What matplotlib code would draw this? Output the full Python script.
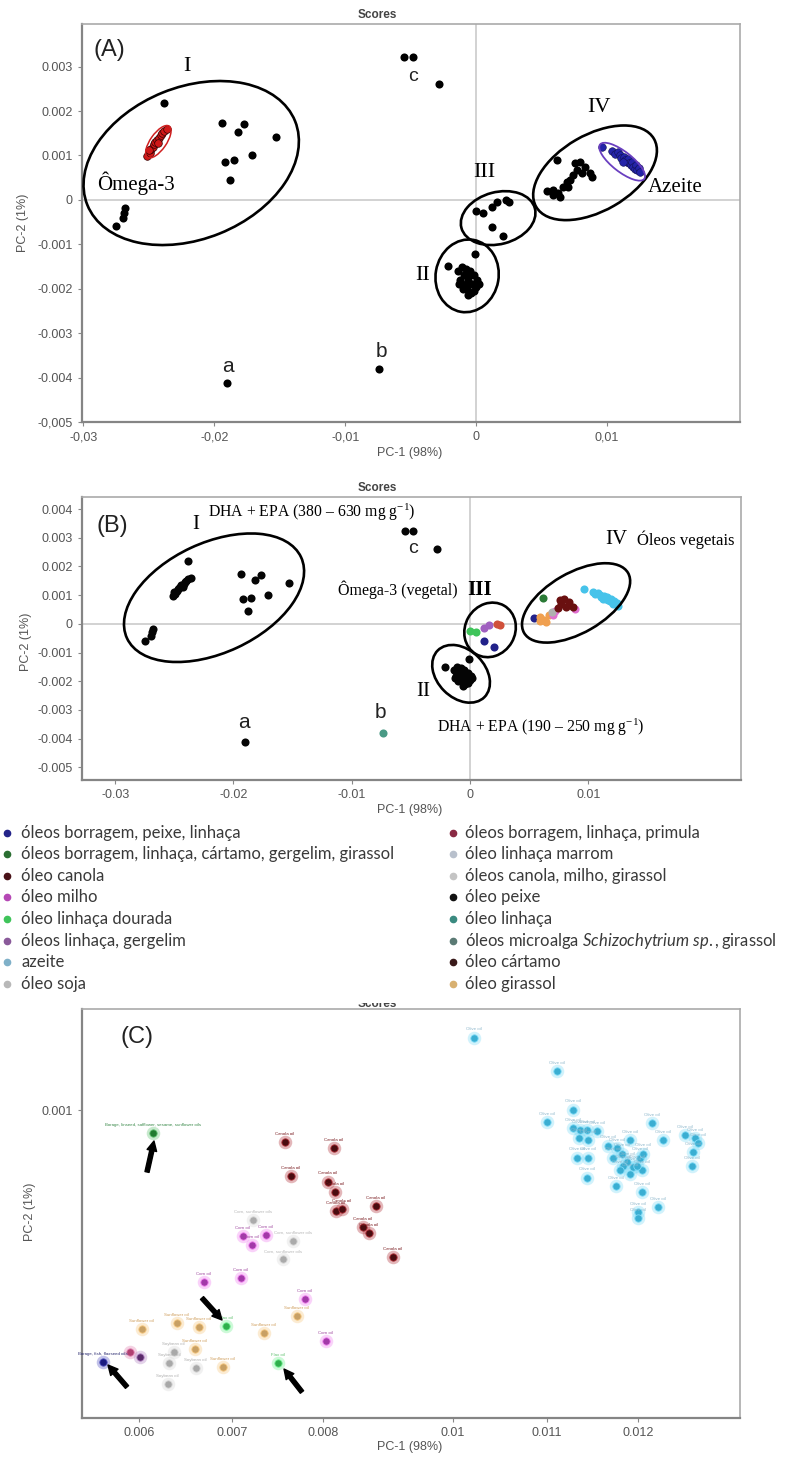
import numpy as np
import matplotlib
matplotlib.use("Agg")
import matplotlib.pyplot as plt
from matplotlib.patches import Ellipse
from matplotlib.transforms import ScaledTranslation, Bbox

# --- Config ---
W, H, DPI = 811, 1457, 100
SERIF = "Liberation Serif"
SANS  = "Liberation Sans"
LEG   = "Lato"
TICK_COLOR = "#555555"

plt.rcParams["mathtext.fontset"] = "custom"
plt.rcParams["mathtext.it"] = "Lato:italic"
plt.rcParams["mathtext.rm"] = "Lato"

# --- Scores PC-1 / PC-2 shared by panels A and B ---
fish_x = [-0.0238, -0.0194, -0.0182, -0.0177, -0.0153, -0.0192, -0.0185, -0.0171, -0.0188,
          -0.0275, -0.0270, -0.0269, -0.0268,
          -0.0055, -0.0048, -0.0028, -0.0190,
          -0.00214, -0.00008, -0.0014, -0.0011, -0.0008, -0.0005, -0.0002, 0.0001, -0.0012,
          -0.0009, -0.0006, -0.0003, 0.0000, -0.0010, -0.0007, -0.0004, -0.0006, -0.0013,
          -0.0002, -0.0008, 0.0002, -0.0005]
fish_y = [0.00218, 0.00173, 0.00153, 0.00171, 0.00142, 0.00085, 0.00090, 0.00101, 0.00045,
          -0.00059, -0.00041, -0.00029, -0.00018,
          0.00322, 0.00322, 0.00260, -0.00413,
          -0.00149, -0.00122, -0.0016, -0.0015, -0.00155, -0.0016, -0.0017, -0.0018, -0.0018,
          -0.0017, -0.0018, -0.0019, -0.00195, -0.0020, -0.0020, -0.0021, -0.00215, -0.0019,
          -0.00205, -0.0019, -0.0019, -0.0017]

omega3_x = [-0.0251, -0.0249, -0.0248, -0.0247, -0.0246, -0.0245, -0.0244, -0.0242, -0.0241,
            -0.0240, -0.0238, -0.0236, -0.0250, -0.0243]
omega3_y = [0.00098, 0.00105, 0.00115, 0.00120, 0.00125, 0.00130, 0.00135, 0.00140, 0.00145,
            0.00150, 0.00155, 0.00160, 0.00112, 0.00128]

micro_x, micro_y = [-0.0074], [-0.0038]

navy_x, navy_y         = [0.00122, 0.00206, 0.0054], [-0.00061, -0.00081, 0.00019]
dgreen_x, dgreen_y     = [0.00616], [0.0009]
bgreen_x, bgreen_y     = [0.0, 0.00053], [-0.00025, -0.00029]
purple_x, purple_y     = [0.00122, 0.0016], [-0.00016, -0.00005]
primula_x, primula_y   = [0.00229, 0.00252], [0.0, -0.00005]
sunfl_x = [0.0059, 0.00628, 0.00641, 0.0059, 0.00666]
sunfl_y = [0.00023, 0.00015, 0.00007, 0.00011, 0.0003]
corn_x, corn_y         = [0.00705, 0.00718, 0.00883], [0.0003, 0.00045, 0.00052]
soy_x, soy_y           = [0.00692], [0.00041]
canola_x = [0.00743, 0.00769, 0.00756, 0.00794, 0.00832, 0.0087, 0.00807]
canola_y = [0.00056, 0.00068, 0.00083, 0.00086, 0.00075, 0.0006, 0.0006]
olive_x = [0.0096, 0.0104, 0.0106, 0.0108, 0.0110, 0.0111, 0.0113, 0.0114, 0.0115, 0.0116,
           0.0117, 0.0118, 0.0119, 0.0120, 0.0121, 0.0122, 0.0123, 0.0124, 0.0125, 0.0112]
olive_y = [0.00120, 0.00110, 0.00103, 0.00108, 0.00100, 0.00094, 0.00097, 0.00090, 0.00086,
           0.00092, 0.00082, 0.00078, 0.00085, 0.00075, 0.00070, 0.00078, 0.00068, 0.00072,
           0.00063, 0.00085]

# --- Panel C (zoom on vegetable oils) ---
c_navy_x, c_navy_y     = [0.005613], [0.000182]
c_dgreen_x, c_dgreen_y = [0.006154], [0.000926]
c_canola_x = [0.007582, 0.008169, 0.007648, 0.008077, 0.008185, 0.008200, 0.008292, 0.008815,
              0.008615, 0.008708, 0.009077]
c_canola_y = [0.000896, 0.000877, 0.000786, 0.000769, 0.000734, 0.000672, 0.000679, 0.000688,
              0.000620, 0.000601, 0.000523]
c_mix_x, c_mix_y       = [0.007231, 0.007670, 0.007560], [0.000643, 0.000575, 0.000516]
c_corn_x = [0.007121, 0.007374, 0.007220, 0.006699, 0.007099, 0.007802, 0.008046]
c_corn_y = [0.000591, 0.000594, 0.000562, 0.000442, 0.000455, 0.000386, 0.000250]
c_bgreen_x, c_bgreen_y = [0.006935, 0.007505], [0.000299, 0.000179]
c_sunfl_x = [0.006032, 0.006409, 0.006645, 0.007352, 0.007714, 0.006602, 0.006903]
c_sunfl_y = [0.000289, 0.000308, 0.000295, 0.000276, 0.000331, 0.000224, 0.000166]
c_soy_x = [0.006376, 0.006323, 0.006613, 0.006312]
c_soy_y = [0.000214, 0.000179, 0.000162, 0.000110]
c_primula_x, c_primula_y = [0.005903], [0.000214]
c_purple_x, c_purple_y   = [0.006011], [0.000198]
c_olive_x = [0.010223, 0.011110, 0.011286, 0.011000, 0.012154, 0.011286, 0.011363, 0.011440,
             0.011549, 0.011352, 0.011451, 0.011912, 0.012275, 0.012516, 0.012626, 0.012659,
             0.012604, 0.012593, 0.011330, 0.011451, 0.011440, 0.011670, 0.011769, 0.011725,
             0.011824, 0.011879, 0.011945, 0.012022, 0.012044, 0.011912, 0.011835, 0.011989,
             0.012055, 0.011802, 0.011758, 0.012044, 0.012220, 0.012000, 0.012000]
c_olive_y = [0.001237, 0.001127, 0.001003, 0.000961, 0.000958, 0.000942, 0.000935, 0.000935,
             0.000932, 0.000909, 0.000903, 0.000903, 0.000903, 0.000919, 0.000909, 0.000893,
             0.000864, 0.000818, 0.000847, 0.000847, 0.000782, 0.000886, 0.000877, 0.000847,
             0.000860, 0.000831, 0.000815, 0.000847, 0.000805, 0.000795, 0.000821, 0.000821,
             0.000860, 0.000805, 0.000753, 0.000734, 0.000685, 0.000669, 0.000649]

# printed PC-1 ticks of panel C are unevenly spaced -> piecewise scale through them
C_SCALE_X = [0.004, 0.005, 0.006, 0.007, 0.008, 0.010, 0.011, 0.012, 0.013, 0.014]
C_SCALE_U = [-47, 46, 139, 232, 323, 453, 547, 638, 729, 820]

# --- Legend ---
legend_left = ["óleos borragem, peixe, linhaça",
               "óleos borragem, linhaça, cártamo, gergelim, girassol",
               "óleo canola", "óleo milho", "óleo linhaça dourada",
               "óleos linhaça, gergelim", "azeite", "óleo soja"]
legend_left_colors = ["#24248a", "#2a6e32", "#4a1218", "#b548b5", "#3fc45a",
                      "#8a5a9a", "#7fb0c8", "#b8b8b8"]
legend_right = ["óleos borragem, linhaça, primula", "óleo linhaça marrom",
                "óleos canola, milho, girassol", "óleo peixe", "óleo linhaça",
                r"óleos microalga $\mathit{Schizochytrium\ sp.,}$girassol",
                "óleo cártamo", "óleo girassol"]
legend_right_colors = ["#8a2a44", "#b8c0cc", "#c4c4c4", "#111111", "#3a8a80",
                       "#5a7a74", "#3a1a1a", "#d8b070"]


def px_rect(left, top, right, bottom):
    return [left / W, 1 - bottom / H, (right - left) / W, (bottom - top) / H]


def ring(ax, cx, cy, a_px, b_px, angle, color="black", lw=1.9):
    tr = ax.figure.dpi_scale_trans + ScaledTranslation(cx, cy, ax.transData)
    ax.add_patch(Ellipse((0, 0), 2 * a_px / DPI, 2 * b_px / DPI, angle=angle,
                         transform=tr, fill=False, ec=color, lw=lw, zorder=6))


def frame(ax, xt, xl, yt, yl):
    ax.set_xticks(xt, xl)
    ax.set_yticks(yt, yl)
    ax.tick_params(labelsize=9, labelcolor=TICK_COLOR, length=3, color="#888888", width=0.8)
    for lab in ax.get_xticklabels() + ax.get_yticklabels():
        lab.set_family(SANS)
    for side in ["top", "right"]:
        ax.spines[side].set_color("#aaaaaa")
        ax.spines[side].set_linewidth(1.2)
    for side in ["left", "bottom"]:
        ax.spines[side].set_color("#858585")
        ax.spines[side].set_linewidth(1.6)


def serif(ax, x, y, s, size=15, **kw):
    ax.text(x, y, s, family=SERIF, fontsize=size, color="black", va="center", zorder=8, **kw)


def sans(ax, x, y, s, size=14, **kw):
    ax.text(x, y, s, family=SANS, fontsize=size, color="#222222", va="center", zorder=8, **kw)


def axis_titles(top_y, xlab_y, ylab_x, ylab_y):
    fig.text(377 / W, 1 - top_y / H, "Scores", family=SANS, fontsize=8.5,
             weight="bold", color="#444444", ha="center", va="center")
    fig.text(410 / W, 1 - xlab_y / H, "PC-1 (98%)", family=SANS, fontsize=9,
             color=TICK_COLOR, ha="center", va="center")
    fig.text(ylab_x / W, 1 - ylab_y / H, "PC-2 (1%)", family=SANS, fontsize=9,
             color=TICK_COLOR, ha="center", va="center", rotation=90)


fig = plt.figure(figsize=(W / DPI, H / DPI), dpi=DPI)

# ---------------- Panel A ----------------
ax = fig.add_axes(px_rect(82, 24, 740, 422))
ax.set_xlim(-0.0301, 0.02015)
ax.set_ylim(-0.005, 0.00396)
ax.axhline(0, color="#cfcfcf", lw=1.3, zorder=1)
ax.axvline(0, color="#cfcfcf", lw=1.3, zorder=1)

black_x = (fish_x + micro_x + navy_x + dgreen_x + bgreen_x + purple_x + primula_x + sunfl_x
           + corn_x + soy_x + canola_x)
black_y = (fish_y + micro_y + navy_y + dgreen_y + bgreen_y + purple_y + primula_y + sunfl_y
           + corn_y + soy_y + canola_y)
ax.scatter(black_x, black_y, s=34, color="black", lw=0, zorder=4)
ax.scatter(omega3_x, omega3_y, s=30, color="#d01818", edgecolor="#300000", lw=0.5, zorder=5)
ax.scatter(olive_x, olive_y, s=30, color="#2424a8", edgecolor="#101050", lw=0.4, zorder=5)

ring(ax, -0.02176, 0.00083, 112, 76, 22)
ring(ax, -0.00069, -0.00171, 36.5, 31.5, 80)
ring(ax, 0.00168, -0.00041, 38, 26, 15)
ring(ax, 0.00908, 0.00061, 68, 38, 30)
ring(ax, 0.01115, 0.00086, 28, 10, -38, color="#6a3fc0", lw=1.3)
ring(ax, -0.02427, 0.00131, 19, 8, 55, color="#d02020", lw=1.1)

sans(ax, -0.0292, 0.00338, "(A)", size=17, ha="left")
serif(ax, -0.02206, 0.0030, "I", size=16, ha="center")
serif(ax, -0.02893, 0.00038, "Ômega-3", ha="left")
serif(ax, -0.00412, -0.00171, "II", size=16, ha="center")
serif(ax, 0.00061, 0.00061, "III", size=16, ha="center")
serif(ax, 0.00939, 0.00207, "IV", size=16, ha="center")
serif(ax, 0.01313, 0.00027, "Azeite", ha="left")
sans(ax, -0.01893, -0.00376, "a", size=15, ha="center")
sans(ax, -0.00725, -0.00342, "b", size=15, ha="center")
sans(ax, -0.00481, 0.00277, "c", size=14, ha="center")

frame(ax, [-0.03, -0.02, -0.01, 0, 0.01], ["-0,03", "-0,02", "-0,01", "0", "0,01"],
      [0.003, 0.002, 0.001, 0, -0.001, -0.002, -0.003, -0.004, -0.005],
      ["0.003", "0.002", "0.001", "0", "-0.001", "-0.002", "-0.003", "-0.004", "-0,005"])
axis_titles(15, 453, 23, 223)

# ---------------- Panel B ----------------
ax = fig.add_axes(px_rect(82, 497, 741, 780))
ax.set_xlim(-0.0328, 0.0229)
ax.set_ylim(-0.00544, 0.00442)
ax.axhline(0, color="#cfcfcf", lw=1.3, zorder=1)
ax.axvline(0, color="#cfcfcf", lw=1.3, zorder=1)

groups_b = [
    (fish_x + omega3_x, fish_y + omega3_y, "#050505"),
    (micro_x, micro_y, "#4a9a85"),
    (navy_x, navy_y, "#22228a"),
    (dgreen_x, dgreen_y, "#2a7a36"),
    (bgreen_x, bgreen_y, "#3fc45a"),
    (purple_x, purple_y, "#a060c0"),
    (primula_x, primula_y, "#d0503a"),
    (sunfl_x, sunfl_y, "#f0a050"),
    (corn_x, corn_y, "#e070d0"),
    (soy_x, soy_y, "#b0b0b0"),
    (canola_x, canola_y, "#6a1010"),
    (olive_x, olive_y, "#46c3ea"),
]
for gx, gy, col in groups_b:
    ax.scatter(gx, gy, s=34, color=col, lw=0, zorder=4)

ring(ax, -0.02164, 0.00091, 96, 55, 25)
ring(ax, -0.00076, -0.00174, 33, 24, -45)
ring(ax, 0.00169, -0.00021, 28, 25, 60)
ring(ax, 0.00896, 0.00073, 60, 30, 30)

sans(ax, -0.0316, 0.00341, "(B)", size=17, ha="left")
serif(ax, -0.02316, 0.00345, "I", size=15, ha="center")
serif(ax, -0.02215, 0.00387, "DHA + EPA (380 – 630 mg g$^{\\mathregular{-1}}$)", size=11.3, ha="left")
serif(ax, -0.01116, 0.00118, "Ômega-3 (vegetal)", size=11.5, ha="left")
serif(ax, 0.00085, 0.00118, "III", size=15, ha="center", weight="bold")
serif(ax, 0.01234, 0.00293, "IV", size=15, ha="center")
serif(ax, 0.01412, 0.00293, "Óleos vegetais", size=12, ha="left")
serif(ax, -0.00397, -0.00237, "II", size=15, ha="center")
serif(ax, -0.00279, -0.00359, "DHA + EPA (190 – 250 mg g$^{\\mathregular{-1}}$)", size=11.3, ha="left")
sans(ax, -0.0191, -0.00345, "a", size=15, ha="center")
sans(ax, -0.00761, -0.0031, "b", size=15, ha="center")
sans(ax, -0.00482, 0.00261, "c", size=14, ha="center")

frame(ax, [-0.03, -0.02, -0.01, 0, 0.01], ["-0.03", "-0.02", "-0.01", "0", "0.01"],
      [0.004, 0.003, 0.002, 0.001, 0, -0.001, -0.002, -0.003, -0.004, -0.005],
      ["0.004", "0.003", "0.002", "0.001", "0", "-0.001", "-0.002", "-0.003", "-0.004", "-0.005"])
axis_titles(488, 810, 26, 642)

# ---------------- Legend ----------------
rows = [833, 854, 876, 897, 919, 941, 962, 984]
for (mx, tx, names, cols) in [(7, 21, legend_left, legend_left_colors),
                              (453, 465, legend_right, legend_right_colors)]:
    for ry, name, col in zip(rows, names, cols):
        fig.lines.append(plt.Line2D([mx / W], [1 - ry / H], marker="o", ms=4.5, color=col,
                                    lw=0, transform=fig.transFigure))
        fig.text(tx / W, 1 - ry / H, name, family=LEG, fontsize=12, color="#3a3a3a",
                 ha="left", va="center")

# ---------------- Panel C ----------------
ax = fig.add_axes(px_rect(82, 1009, 740, 1418))
ax.set_xscale("function", functions=(lambda x: np.interp(x, C_SCALE_X, C_SCALE_U),
                                     lambda u: np.interp(u, C_SCALE_U, C_SCALE_X)))
ax.set_xlim(0.00539, 0.01312)
ax.set_ylim(0.0, 0.00133)


def glow(xs, ys, color, halo, label, lcolor):
    ax.scatter(xs, ys, s=95, color=halo, alpha=0.35, lw=0, zorder=3)
    ax.scatter(xs, ys, s=28, color=color, edgecolor=halo, lw=0.6, zorder=4)
    for x, y in zip(xs, ys):
        ax.annotate(label, (x, y), xytext=(0, 4.5), textcoords="offset points",
                    ha="center", va="bottom", fontsize=3.2, color=lcolor, family=SANS,
                    zorder=5)


glow(c_olive_x, c_olive_y, "#3aaed2", "#7ddaf6", "Olive oil", "#8fb8cc")
glow(c_canola_x, c_canola_y, "#4a0c10", "#b03038", "Canola oil", "#7a1c20")
glow(c_mix_x, c_mix_y, "#aaaaaa", "#d8d8d8", "Corn, sunflower oils", "#b8b8b8")
glow(c_corn_x, c_corn_y, "#a23aa8", "#f080f0", "Corn oil", "#a04aa0")
glow(c_sunfl_x, c_sunfl_y, "#c8a064", "#f6c880", "Sunflower oil", "#d0a060")
glow(c_soy_x, c_soy_y, "#a8a8a8", "#d6d6d6", "Soybean oil", "#b0b0b0")
glow(c_bgreen_x, c_bgreen_y, "#2fae4c", "#70f090", "Flax oil", "#60c070")
glow(c_dgreen_x, c_dgreen_y, "#1f7a2f", "#60c070",
     "Borage, linseed, safflower, sesame, sunflower oils", "#3a8a4a")
glow(c_primula_x, c_primula_y, "#b04070", "#e080b0", "", "#b04070")
glow(c_purple_x, c_purple_y, "#5a2a6a", "#b080c0", "", "#5a2a6a")
glow(c_navy_x, c_navy_y, "#1a1a80", "#5050c0", "Borage, fish, flaxseed oils", "#2a2a70")

for tail, head in [((0.0988, 0.6015), (0.1094, 0.6773)),
                   ((0.1824, 0.2934), (0.2128, 0.2396)),
                   ((0.0684, 0.0758), (0.0395, 0.1296)),
                   ((0.3343, 0.0636), (0.307, 0.1198))]:
    ax.annotate("", xy=head, xytext=tail, xycoords="axes fraction", textcoords="axes fraction",
                arrowprops=dict(arrowstyle="simple,head_length=0.7,head_width=0.7,tail_width=0.3",
                                color="black", shrinkA=0, shrinkB=0), zorder=7)

sans(ax, 0.0058, 0.00124, "(C)", size=17, ha="left")

frame(ax, [0.006, 0.007, 0.008, 0.01, 0.011, 0.012],
      ["0.006", "0.007", "0.008", "0.01", "0.011", "0.012"], [0.001], ["0.001"])
ax.minorticks_off()
t = fig.text(377 / W, 1 - 1004 / H, "Scores", family=SANS, fontsize=8.5, weight="bold",
             color="#444444", ha="center", va="center")
t.set_clip_box(Bbox.from_extents(0, 0, W, H - 1003))
t.set_clip_on(True)
fig.text(410 / W, 1 - 1447 / H, "PC-1 (98%)", family=SANS, fontsize=9,
         color=TICK_COLOR, ha="center", va="center")
fig.text(30 / W, 1 - 1212 / H, "PC-2 (1%)", family=SANS, fontsize=9,
         color=TICK_COLOR, ha="center", va="center", rotation=90)

fig.savefig("out.png", dpi=DPI)
